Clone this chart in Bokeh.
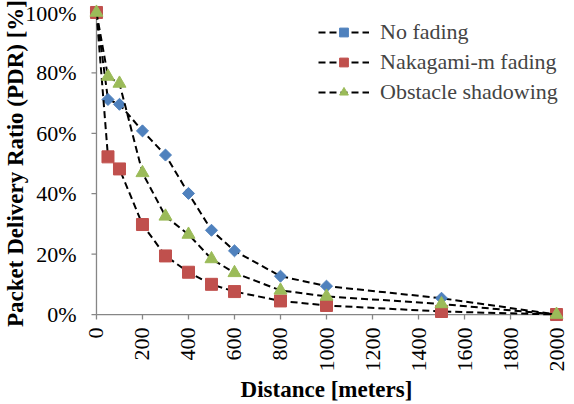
import math
from bokeh.plotting import figure
from bokeh.models import Range1d, NumeralTickFormatter, FixedTicker, Legend, LegendItem
from bokeh.embed import file_html
from bokeh.resources import INLINE

distance = [0, 50, 100, 200, 300, 400, 500, 600, 800, 1000, 1500, 2000]
no_fading = [1.00, 0.712, 0.696, 0.608, 0.528, 0.401, 0.279, 0.211, 0.127, 0.094, 0.054, 0.0]
nakagami = [1.00, 0.522, 0.482, 0.298, 0.194, 0.140, 0.100, 0.076, 0.045, 0.030, 0.010, 0.0]
obstacle = [1.00, 0.788, 0.765, 0.469, 0.325, 0.265, 0.184, 0.138, 0.080, 0.060, 0.035, 0.0]
x_ticks = [0, 200, 400, 600, 800, 1000, 1200, 1400, 1600, 1800, 2000]
y_ticks = [0, 0.2, 0.4, 0.6, 0.8, 1.0]

FONT = "Liberation Serif"
GRAY = "#868686"

# pixel scale of the plot frame, and padding so edge markers are not clipped
PX_X = 2000 / 461
PX_Y = 1 / 303
XPAD = 10 * PX_X
YPAD = 10 * PX_Y

p = figure(width=574, height=404, output_backend="svg", toolbar_location=None,
           x_range=Range1d(-XPAD, 2000 + XPAD), y_range=Range1d(-YPAD, 1 + YPAD),
           min_border_left=85, min_border_right=8, min_border_top=2, min_border_bottom=79)
p.outline_line_color = None
p.grid.grid_line_color = None
p.background_fill_color = "white"

for ax in (p.xaxis[0], p.yaxis[0]):
    ax.axis_line_color = None
    ax.major_tick_line_color = None
    ax.minor_tick_line_color = None
    ax.major_tick_in = 0
    ax.major_tick_out = 0
    ax.major_label_text_font = FONT
    ax.major_label_text_font_size = "22px"
    ax.major_label_text_color = "black"
    ax.axis_label_text_font = FONT
    ax.axis_label_text_font_style = "bold"
    ax.axis_label_text_font_size = "23px"
    ax.axis_label_text_color = "black"

p.xaxis.ticker = FixedTicker(ticks=x_ticks)
p.yaxis.ticker = FixedTicker(ticks=y_ticks)
p.yaxis.formatter = NumeralTickFormatter(format="0%")
p.xaxis.major_label_orientation = math.pi / 2
p.xaxis.major_label_standoff = 3
p.yaxis.major_label_standoff = 10
p.xaxis.axis_label_standoff = 2
p.yaxis.axis_label_standoff = -6
p.xaxis.axis_label = "Distance [meters]"
p.yaxis.axis_label = "Packet Delivery Ratio (PDR) [%]"

# axis lines and outward ticks drawn at the data origin
TICK = 5
p.segment(x0=[0, 0], y0=[0, 0], x1=[x_ticks[-1], 0], y1=[0, y_ticks[-1]],
          line_color=GRAY, line_width=1.3)
p.segment(x0=x_ticks, y0=[0] * len(x_ticks), x1=x_ticks, y1=[-TICK * PX_Y] * len(x_ticks),
          line_color=GRAY, line_width=1.3)
p.segment(x0=[0] * len(y_ticks), y0=y_ticks, x1=[-TICK * PX_X] * len(y_ticks), y1=y_ticks,
          line_color=GRAY, line_width=1.3)

items = []
specs = [
    ("No fading", no_fading, "square", 8.5, math.pi / 4, "#4F81BD"),
    ("Nakagami-m fading", nakagami, "square", 12, 0, "#C0504D"),
    ("Obstacle shadowing", obstacle, "triangle", 13, 0, "#9BBB59"),
]
for name, ys, marker, size, ang, col in specs:
    l = p.line(distance, ys, line_color="black", line_width=2, line_dash="7 4")
    s = p.scatter(distance, ys, marker=marker, size=size, angle=ang,
                  fill_color=col, line_color=col)
    items.append(LegendItem(label=name, renderers=[l, s]))

legend = Legend(items=items, location=(232, 219), border_line_color=None,
                background_fill_alpha=0, padding=0, margin=0, spacing=4,
                glyph_width=51, glyph_height=22, label_standoff=11,
                label_text_font=FONT, label_text_font_size="22px")
p.add_layout(legend, "center")

open("out.html", "w").write(file_html(p, INLINE))
